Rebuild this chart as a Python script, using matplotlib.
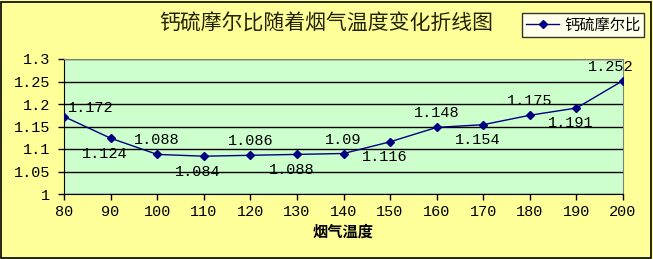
import matplotlib
matplotlib.use("Agg")
import matplotlib.pyplot as plt
from matplotlib.patches import Rectangle

temps = [80, 90, 100, 110, 120, 130, 140, 150, 160, 170, 180, 190, 200]
ratio = [1.172, 1.124, 1.088, 1.084, 1.086, 1.088, 1.09, 1.116, 1.148, 1.154, 1.175, 1.191, 1.252]
label_text = ["1.172", "1.124", "1.088", "1.084", "1.086", "1.088", "1.09", "1.116", "1.148", "1.154", "1.175", "1.191", "1.252"]
yticks = [1, 1.05, 1.1, 1.15, 1.2, 1.25, 1.3]
ytick_labels = ["1", "1.05", "1.1", "1.15", "1.2", "1.25", "1.3"]
title = "钙硫摩尔比随着烟气温度变化折线图"
series_name = "钙硫摩尔比"
xlabel = "烟气温度"

cjk = ["Noto Sans CJK SC", "DejaVu Sans"]
mono = ["Liberation Mono", "DejaVu Sans Mono"]

W, H = 653, 259
fig = plt.figure(figsize=(W / 100, H / 100), dpi=100, facecolor="#FFFF99")
fig.patches.append(Rectangle((1 / W, 1 / H), 1 - 3 / W, 1 - 3 / H, transform=fig.transFigure,
                             fill=False, edgecolor="black", linewidth=1.2))

ax = fig.add_axes([64 / W, 1 - 194 / H, (623 - 64) / W, (194 - 59) / H])
ax.set_facecolor("#CCFFCC")
line, = ax.plot(temps, ratio, color="#000080", linewidth=1, marker="D", markersize=4,
                markerfacecolor="#000080", markeredgecolor="#000080", label=series_name, zorder=3)
ax.set_xlim(80, 200)
ax.set_ylim(1, 1.3)
ax.set_xticks(temps)
ax.set_xticklabels([str(t) for t in temps], fontfamily=mono, fontsize=11)
ax.set_yticks(yticks)
ax.set_yticklabels(ytick_labels, fontfamily=mono, fontsize=11)
ax.grid(axis="y", color="black", linewidth=1)
ax.set_axisbelow(True)
for s in ["top", "right"]:
    ax.spines[s].set_color("#808080")
for s in ["left", "bottom"]:
    ax.spines[s].set_color("black")
ax.tick_params(axis="both", length=4, width=1, color="black", direction="out", pad=4)
ax.tick_params(axis="y", pad=6)

n = len(temps)
for i, (x, y, t) in enumerate(zip(temps, ratio, label_text)):
    if i == 0:
        off, ha, va = (3, 1), "left", "bottom"
    elif i == n - 1:
        off, ha, va = (-9, 5), "center", "bottom"
    elif i % 2 == 0:
        off, ha, va = (0, 5), "center", "bottom"
    else:
        off, ha, va = (-4, -6), "center", "top"
    ax.annotate(t, (x, y), xytext=off, textcoords="offset points", ha=ha, va=va,
                fontfamily=mono, fontsize=11, color="black")

ax.set_xlabel(xlabel, fontfamily=cjk, fontsize=11, fontweight="bold", labelpad=3)

fig.text(326 / W, 1 - 24 / H, title, fontfamily=cjk, fontsize=15, ha="center", va="center", color="#222200")

leg = fig.legend(handles=[line], loc="center", bbox_to_anchor=(583 / W, 1 - 25 / H),
                 prop={"family": cjk, "size": 11}, frameon=True, fancybox=False,
                 edgecolor="black", facecolor="white", handlelength=2.2, borderpad=0.25,
                 handletextpad=0.3)
leg.get_frame().set_linewidth(1)

fig.savefig("out.png", dpi=100, facecolor=fig.get_facecolor())
